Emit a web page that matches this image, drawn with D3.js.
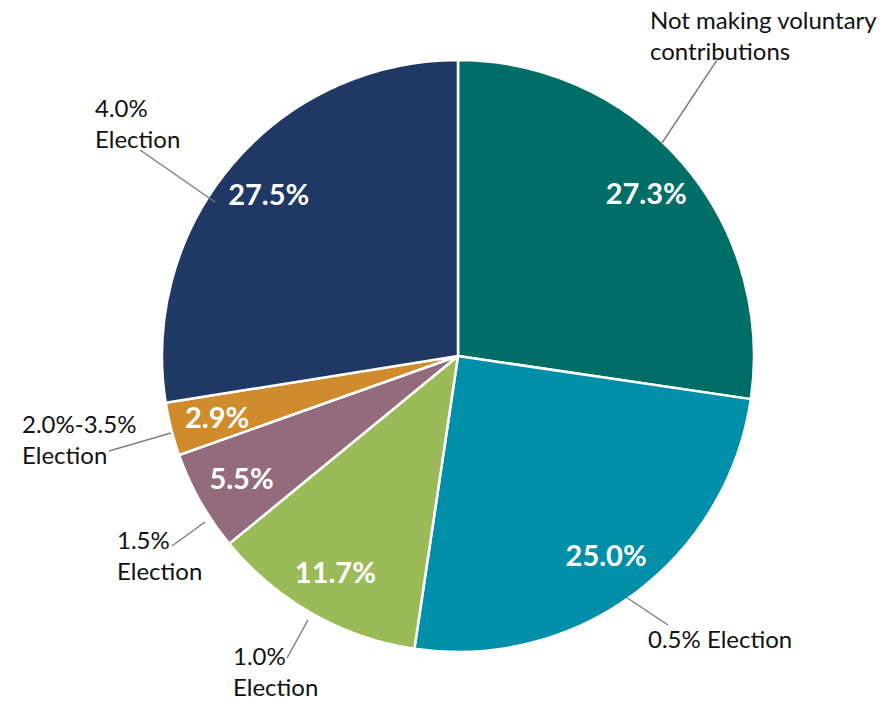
<!DOCTYPE html>
<html>
<head>
<meta charset="utf-8">
<script src="https://cdn.jsdelivr.net/npm/d3@7"></script>
<style>
  body { margin: 0; background: #fff; }
  text { font-family: Lato, "Open Sans", sans-serif; }
</style>
</head>
<body>
<div id="chart"></div>
<script>
// data
const categories = ["Not making voluntary contributions", "0.5% Election", "1.0% Election",
    "1.5% Election", "2.0%-3.5% Election", "4.0% Election"];
const shares = [27.3, 25.0, 11.7, 5.5, 2.9, 27.5];
const valueLabels = ["27.3%", "25.0%", "11.7%", "5.5%", "2.9%", "27.5%"];
const labelLines = [["Not making voluntary", "contributions"], ["0.5% Election"], ["1.0%", "Election"],
    ["1.5%", "Election"], ["2.0%-3.5%", "Election"], ["4.0%", "Election"]];
const colors = ["#006e66", "#008fa8", "#9bbb59", "#946b7d", "#d08b2c", "#203864"];

// outside label placement: text anchor [x, baseline] and leader line [from, to]
const labelAnchors = [[650, 29], [648, 648], [233, 665], [117, 549], [22, 433], [95, 117]];
const leaders = [
    [[662, 143], [717, 60]],
    [[626, 597], [668, 625]],
    [[308, 620], [287, 658]],
    [[205, 522], [172, 546]],
    [[171, 433], [109, 451]],
    [[215, 202], [140, 150]]
];

const width = 892, height = 701;
const cx = 458, cy = 356, radius = 296;

const svg = d3.select("#chart")
    .append("svg")
    .attr("width", width)
    .attr("height", height);

const g = svg.append("g")
    .attr("transform", "translate(" + cx + "," + cy + ")");

const pie = d3.pie().sort(null).value(d => d);
const arcs = pie(shares);

const arc = d3.arc().innerRadius(0).outerRadius(radius);
const labelArc = d3.arc().innerRadius(radius * 0.84).outerRadius(radius * 0.84);

g.selectAll("path.slice")
    .data(arcs)
    .enter()
    .append("path")
    .attr("class", "slice")
    .attr("d", arc)
    .attr("fill", (d, i) => colors[i])
    .attr("stroke", "#fff")
    .attr("stroke-width", 2.5)
    .attr("stroke-linejoin", "round");

// value labels inside slices
g.selectAll("text.value")
    .data(arcs)
    .enter()
    .append("text")
    .attr("class", "value")
    .attr("x", d => labelArc.centroid(d)[0])
    .attr("y", d => labelArc.centroid(d)[1])
    .attr("dy", "0.36em")
    .attr("text-anchor", "middle")
    .style("font-size", "29px")
    .style("font-weight", "bold")
    .style("fill", "#fff")
    .text((d, i) => valueLabels[i]);

// leader lines
svg.selectAll("line.leader")
    .data(leaders)
    .enter()
    .append("line")
    .attr("class", "leader")
    .attr("x1", d => d[0][0])
    .attr("y1", d => d[0][1])
    .attr("x2", d => d[1][0])
    .attr("y2", d => d[1][1])
    .attr("stroke", "#808080")
    .attr("stroke-width", 1.5);

// category labels
const cat = svg.selectAll("text.cat")
    .data(labelLines)
    .enter()
    .append("text")
    .attr("class", "cat")
    .attr("x", (d, i) => labelAnchors[i][0])
    .attr("y", (d, i) => labelAnchors[i][1])
    .style("font-size", "24px")
    .style("fill", "#111");

cat.each(function (lines, i) {
    d3.select(this).selectAll("tspan")
        .data(lines)
        .enter()
        .append("tspan")
        .attr("x", labelAnchors[i][0])
        .attr("dy", (d, j) => j === 0 ? 0 : 31)
        .text(d => d);
});
</script>
</body>
</html>
